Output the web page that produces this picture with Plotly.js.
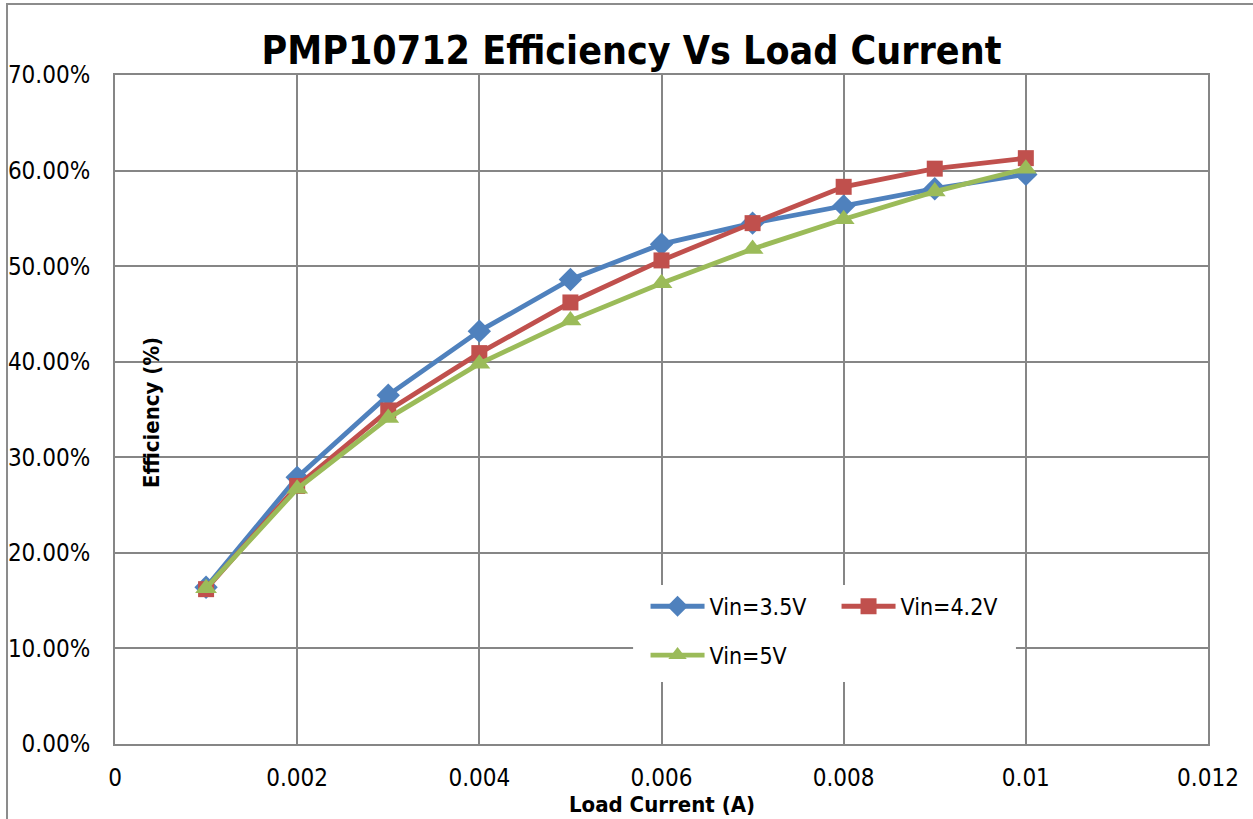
<!DOCTYPE html>
<html>
<head>
<meta charset="utf-8">
<script src="https://cdn.plot.ly/plotly-3.0.1.min.js"></script>
<style>html,body{margin:0;padding:0;background:#fff}#chart{width:1253px;height:819px}</style>
</head>
<body>
<div id="chart"></div>
<script>
const loadCurrent = [0.001, 0.002, 0.003, 0.004, 0.005, 0.006, 0.007, 0.008, 0.009, 0.010];
const eff35 = [0.164, 0.279, 0.365, 0.432, 0.486, 0.523, 0.545, 0.563, 0.581, 0.596];
const eff42 = [0.162, 0.270, 0.349, 0.409, 0.462, 0.506, 0.545, 0.583, 0.602, 0.613];
const eff50 = [0.163, 0.267, 0.341, 0.398, 0.443, 0.482, 0.518, 0.549, 0.578, 0.602];
const seriesNames = ['Vin=3.5V', 'Vin=4.2V', 'Vin=5V'];
const xTickVals = [0, 0.002, 0.004, 0.006, 0.008, 0.010, 0.012];
const xTickText = ['0', '0.002', '0.004', '0.006', '0.008', '0.01', '0.012'];

const FN = '"Liberation Sans Narrow", "Arial Narrow", "DejaVu Sans Condensed", sans-serif';

const traces = [
  {x: loadCurrent, y: eff35, name: seriesNames[0], mode: 'lines+markers', legend: 'legend',
   line: {color: '#4F81BD', width: 4.8}, marker: {symbol: 'diamond', size: 18, color: '#4F81BD'}},
  {x: loadCurrent, y: eff42, name: seriesNames[1], mode: 'lines+markers', legend: 'legend',
   line: {color: '#C0504D', width: 4.8}, marker: {symbol: 'square', size: 16, color: '#C0504D'}},
  {x: loadCurrent, y: eff50, name: seriesNames[2], mode: 'lines+markers', legend: 'legend2',
   line: {color: '#9BBB59', width: 4.8}, marker: {symbol: 'triangle-up', size: 19, color: '#9BBB59'}}
];

const layout = {
  width: 1253, height: 819,
  margin: {l: 115, r: 45, t: 75, b: 75},
  paper_bgcolor: '#fff', plot_bgcolor: '#fff',
  font: {family: FN, size: 24, color: '#000'},
  title: {text: '<b>PMP10712 Efficiency Vs Load Current</b>', font: {family: FN, size: 39, color: '#000'},
          x: 0.504, xref: 'container', xanchor: 'center', y: 0.939, yref: 'container', yanchor: 'middle'},
  xaxis: {range: [0, 0.012], tickvals: xTickVals, ticktext: xTickText, showgrid: true,
          gridcolor: '#868686', gridwidth: 2, showline: true, linecolor: '#868686', linewidth: 2, mirror: true,
          zeroline: false, ticks: '', ticklabelstandoff: 11, tickfont: {family: FN, size: 24}},
  yaxis: {range: [0, 0.7], dtick: 0.1, tick0: 0, tickformat: '.2%', showgrid: true,
          gridcolor: '#868686', gridwidth: 2, showline: true, linecolor: '#868686', linewidth: 2, mirror: true,
          zeroline: false, ticks: '', ticklabelstandoff: 18, tickfont: {family: FN, size: 24}},
  showlegend: true,
  legend: {orientation: 'h', x: 0.4854, xanchor: 'left', y: 0.238, yanchor: 'top', bgcolor: 'rgba(0,0,0,0)',
           entrywidth: 122, font: {family: FN, size: 23}, itemwidth: 54, traceorder: 'normal'},
  legend2: {orientation: 'h', x: 0.4854, xanchor: 'left', y: 0.165, yanchor: 'top', bgcolor: 'rgba(0,0,0,0)',
            font: {family: FN, size: 23}, itemwidth: 54},
  shapes: [
    {type: 'rect', xref: 'paper', yref: 'paper', x0: 0.474, x1: 0.8243, y0: 0.0927, y1: 0.2377,
     fillcolor: '#fff', line: {width: 0}, layer: 'above'},
    {type: 'rect', xref: 'paper', yref: 'paper', x0: -0.0988, x1: 1.2, y0: -0.2, y1: 1.106,
     fillcolor: 'rgba(0,0,0,0)', line: {color: '#8c8c8c', width: 2}, layer: 'above'}
  ],
  annotations: [
    {text: '<b>Efficiency (%)</b>', xref: 'paper', yref: 'paper', x: 0.0339, y: 0.495, textangle: -90,
     showarrow: false, xanchor: 'center', yanchor: 'middle', font: {family: FN, size: 22, color: '#000'}},
    {text: '<b>Load Current (A)</b>', xref: 'paper', yref: 'paper', x: 0.5, y: -0.091,
     showarrow: false, xanchor: 'center', yanchor: 'middle', font: {family: FN, size: 22, color: '#000'}}
  ]
};

Plotly.newPlot('chart', traces, layout, {displayModeBar: false, staticPlot: true});
</script>
</body>
</html>
